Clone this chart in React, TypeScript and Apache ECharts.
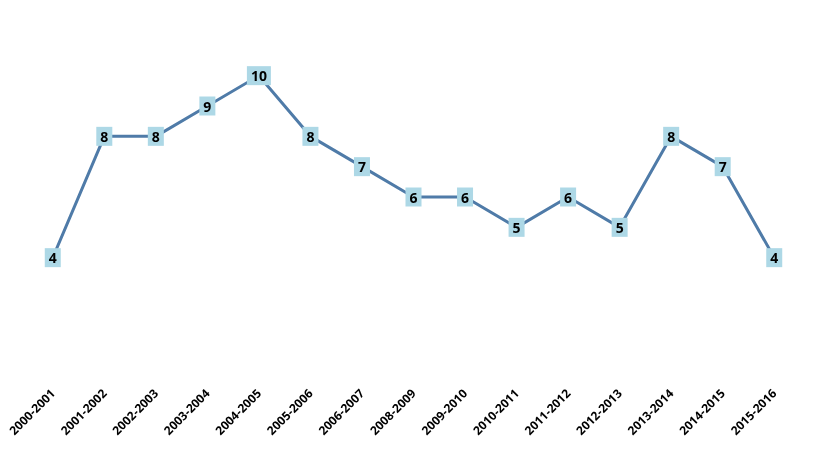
import { useEffect, useRef } from 'react';
import * as echarts from 'echarts';

const seasons = [
  '2000-2001', '2001-2002', '2002-2003', '2003-2004', '2004-2005',
  '2005-2006', '2006-2007', '2008-2009', '2009-2010', '2010-2011',
  '2011-2012', '2012-2013', '2013-2014', '2014-2015', '2015-2016',
];
const counts = [4, 8, 8, 9, 10, 8, 7, 6, 6, 5, 6, 5, 8, 7, 4];

const App = () => {
  const chartDom = useRef<HTMLDivElement>(null);

  useEffect(() => {
    const chart = echarts.init(chartDom.current, null, { renderer: 'svg' });
    chart.setOption({
      animation: false,
      grid: { left: 27, right: 16, top: 15, bottom: 70 },
      xAxis: {
        type: 'category',
        data: seasons,
        boundaryGap: true,
        axisLine: { show: false },
        axisTick: { show: false },
        axisLabel: {
          rotate: 45,
          interval: 0,
          margin: 12,
          color: '#000',
          fontSize: 12,
          fontWeight: 'bold',
          fontFamily: 'Open Sans',
        },
      },
      yAxis: {
        type: 'value',
        min: 0,
        max: 12,
        show: false,
        splitLine: { show: false },
      },
      series: [
        {
          type: 'line',
          data: counts,
          symbol: 'circle',
          symbolSize: 2,
          itemStyle: { color: '#4f7ba8' },
          lineStyle: { color: '#4f7ba8', width: 3 },
          label: {
            show: true,
            position: 'inside',
            backgroundColor: '#add8e6',
            padding: [3, 4, 2, 4],
            color: '#000',
            fontSize: 14,
            fontWeight: 'bold',
            fontFamily: 'Open Sans',
          },
        },
      ],
    });
    return () => {
      chart.dispose();
    };
  }, []);

  return (
    <div
      ref={chartDom}
      style={{ position: 'fixed', left: 0, top: 0, width: 816, height: 449 }}
    />
  );
};

export default App;
